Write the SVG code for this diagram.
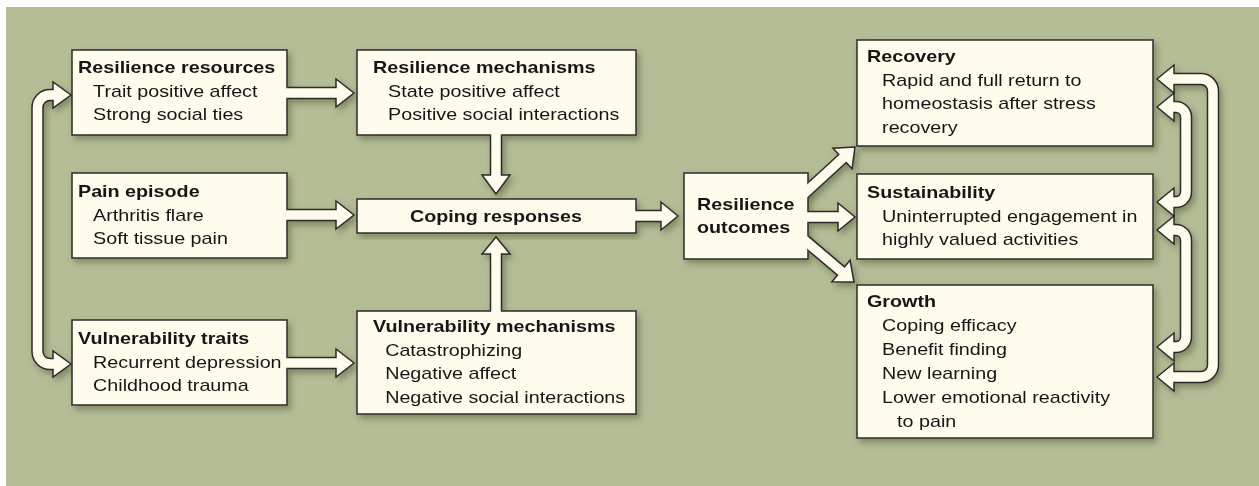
<svg xmlns="http://www.w3.org/2000/svg" xmlns:xlink="http://www.w3.org/1999/xlink" width="1259" height="486" viewBox="0 0 1259 486">
<defs>
<style>
.box{fill:#fffcee;stroke:#2b2b2b;stroke-width:1.5}
.t{font-family:"Liberation Sans",Arial,Helvetica,sans-serif;font-size:17px;fill:#151515}
.b{font-weight:bold}
.sd{fill:none;stroke:#2b2b2b;stroke-width:12.5}
.sc{fill:none;stroke:#fffcee;stroke-width:9.5}
.hd{fill:#fffcee;stroke:#2b2b2b;stroke-width:1.5;stroke-linejoin:miter}
</style>
<filter id="ds" x="-10%" y="-10%" width="125%" height="130%">
<feDropShadow dx="3" dy="4" stdDeviation="3" flood-color="#5f6842" flood-opacity="0.6"/>
</filter>
<filter id="so" x="-10%" y="-10%" width="125%" height="130%">
<feGaussianBlur in="SourceAlpha" stdDeviation="3"/>
<feOffset dx="3" dy="4" result="o"/>
<feFlood flood-color="#5f6842" flood-opacity="0.6"/>
<feComposite in2="o" operator="in"/>
</filter>
<clipPath id="cl"><rect x="808.75" y="0" width="100" height="486"/></clipPath>
</defs>
<rect x="6" y="7" width="1253" height="479" fill="#b5bd97"/>
<use xlink:href="#connectors" filter="url(#so)"/>

<g id="n-res-resources">
<rect class="box" x="72" y="50" width="215" height="85" filter="url(#ds)"/>
<text class="t" transform="translate(78 73) scale(1.16 1)"><tspan class="b" x="0" y="0">Resilience resources</tspan><tspan x="13" y="23.7">Trait positive affect</tspan><tspan x="13" y="47.4">Strong social ties</tspan></text>
</g>
<g id="n-pain">
<rect class="box" x="72" y="173" width="215" height="85" filter="url(#ds)"/>
<text class="t" transform="translate(78 197) scale(1.16 1)"><tspan class="b" x="0" y="0">Pain episode</tspan><tspan x="13" y="23.7">Arthritis flare</tspan><tspan x="13" y="47.4">Soft tissue pain</tspan></text>
</g>
<g id="n-vuln-traits">
<rect class="box" x="72" y="320" width="215" height="85" filter="url(#ds)"/>
<text class="t" transform="translate(78 344) scale(1.16 1)"><tspan class="b" x="0" y="0">Vulnerability traits</tspan><tspan x="13" y="23.7">Recurrent depression</tspan><tspan x="13" y="47.4">Childhood trauma</tspan></text>
</g>
<g id="n-res-mech">
<rect class="box" x="357" y="50" width="279" height="85" filter="url(#ds)"/>
<text class="t" transform="translate(373 73) scale(1.16 1)"><tspan class="b" x="0" y="0">Resilience mechanisms</tspan><tspan x="13" y="23.7">State positive affect</tspan><tspan x="13" y="47.4">Positive social interactions</tspan></text>
</g>
<g id="n-coping">
<rect class="box" x="357" y="199" width="279" height="34" filter="url(#ds)"/>
<text class="t b" text-anchor="middle" transform="translate(496 222) scale(1.16 1)">Coping responses</text>
</g>
<g id="n-vuln-mech">
<rect class="box" x="357" y="311" width="279" height="103" filter="url(#ds)"/>
<text class="t" transform="translate(373 332) scale(1.16 1)"><tspan class="b" x="0" y="0">Vulnerability mechanisms</tspan><tspan x="10.5" y="23.7">Catastrophizing</tspan><tspan x="10.5" y="47.4">Negative affect</tspan><tspan x="10.5" y="71.1">Negative social interactions</tspan></text>
</g>
<g id="n-outcomes">
<rect class="box" x="684" y="173" width="124" height="86" filter="url(#ds)"/>
<text class="t b" transform="translate(697 210) scale(1.16 1)"><tspan x="0" y="0">Resilience</tspan><tspan x="0" y="23.5">outcomes</tspan></text>
</g>
<g id="n-recovery">
<rect class="box" x="857" y="40" width="296" height="106" filter="url(#ds)"/>
<text class="t" transform="translate(867 62) scale(1.16 1)"><tspan class="b" x="0" y="0">Recovery</tspan><tspan x="13" y="23.7">Rapid and full return to</tspan><tspan x="13" y="47.4">homeostasis after stress</tspan><tspan x="13" y="71.1">recovery</tspan></text>
</g>
<g id="n-sustain">
<rect class="box" x="857" y="174" width="296" height="85" filter="url(#ds)"/>
<text class="t" transform="translate(867 198) scale(1.16 1)"><tspan class="b" x="0" y="0">Sustainability</tspan><tspan x="13" y="23.7">Uninterrupted engagement in</tspan><tspan x="13" y="47.4">highly valued activities</tspan></text>
</g>
<g id="n-growth">
<rect class="box" x="857" y="285" width="296" height="153" filter="url(#ds)"/>
<text class="t" transform="translate(867 307) scale(1.16 1)"><tspan class="b" x="0" y="0">Growth</tspan><tspan x="13" y="24.5">Coping efficacy</tspan><tspan x="13" y="48.5">Benefit finding</tspan><tspan x="13" y="72.5">New learning</tspan><tspan x="13" y="96.5">Lower emotional reactivity</tspan><tspan x="25.9" y="120.5">to pain</tspan></text>
</g>

<g id="connectors">
<!-- left loop -->
<path class="sd" d="M55,95 H50 A12.5,12.5 0 0 0 37.5,107.5 V351.5 A12.5,12.5 0 0 0 50,364 H55"/>
<polygon class="hd" points="71,95 53,82 53,108"/>
<polygon class="hd" points="71,364 53,351 53,377"/>
<path class="sc" d="M55,95 H50 A12.5,12.5 0 0 0 37.5,107.5 V351.5 A12.5,12.5 0 0 0 50,364 H55"/>
<!-- straight left-to-middle -->
<path class="sd" d="M287.5,93 H338"/><polygon class="hd" points="354,93 336,79 336,107"/><path class="sc" d="M285.5,93 H338"/>
<path class="sd" d="M287.5,215 H338"/><polygon class="hd" points="354,215 336,201 336,229"/><path class="sc" d="M285.5,215 H338"/>
<path class="sd" d="M287.5,363 H338"/><polygon class="hd" points="354,363 336,349 336,377"/><path class="sc" d="M285.5,363 H338"/>
<!-- vertical into coping -->
<path class="sd" d="M496,135.5 V177"/><polygon class="hd" points="496,194 482,175 510,175"/><path class="sc" d="M496,133.5 V177"/>
<path class="sd" d="M496,310.5 V252"/><polygon class="hd" points="496,237 482,254 510,254"/><path class="sc" d="M496,312.5 V252"/>
<!-- coping to outcomes -->
<path class="sd" d="M636.5,216 H663"/><polygon class="hd" points="678,216 661,202 661,230"/><path class="sc" d="M634.5,216 H663"/>
<!-- outcomes fan -->
<path class="sd" clip-path="url(#cl)" d="M803,194.7 L843.6,157.5"/><polygon class="hd" points="855,147 852,168.8 833,148.2"/><path class="sc" d="M803,194.7 L843.6,157.5"/>
<path class="sd" d="M808.5,217 H840"/><polygon class="hd" points="855,217 838,203 838,231"/><path class="sc" d="M806.5,217 H840"/>
<path class="sd" clip-path="url(#cl)" d="M803,238.8 L842.2,272"/><polygon class="hd" points="854,282 831.9,281.7 850.1,260.3"/><path class="sc" d="M803,238.8 L842.2,272"/>
<!-- right loops -->
<path class="sd" d="M1172,79 H1201 A12,12 0 0 1 1213,91 V365 A12,12 0 0 1 1201,377 H1172"/>
<path class="sd" d="M1172,107 H1176 A10,10 0 0 1 1186,117 V192 A10,10 0 0 1 1176,202 H1172"/>
<path class="sd" d="M1172,230 H1176 A10,10 0 0 1 1186,240 V337 A10,10 0 0 1 1176,347 H1172"/>
<polygon class="hd" points="1157,79 1174,65 1174,93"/>
<polygon class="hd" points="1157,377 1174,363 1174,391"/>
<polygon class="hd" points="1157,107 1174,93 1174,121"/>
<polygon class="hd" points="1157,202 1174,188 1174,216"/>
<polygon class="hd" points="1157,230 1174,216 1174,244"/>
<polygon class="hd" points="1157,347 1174,333 1174,361"/>
<path class="sc" d="M1172,79 H1201 A12,12 0 0 1 1213,91 V365 A12,12 0 0 1 1201,377 H1172"/>
<path class="sc" d="M1172,107 H1176 A10,10 0 0 1 1186,117 V192 A10,10 0 0 1 1176,202 H1172"/>
<path class="sc" d="M1172,230 H1176 A10,10 0 0 1 1186,240 V337 A10,10 0 0 1 1176,347 H1172"/>
</g>
</svg>
